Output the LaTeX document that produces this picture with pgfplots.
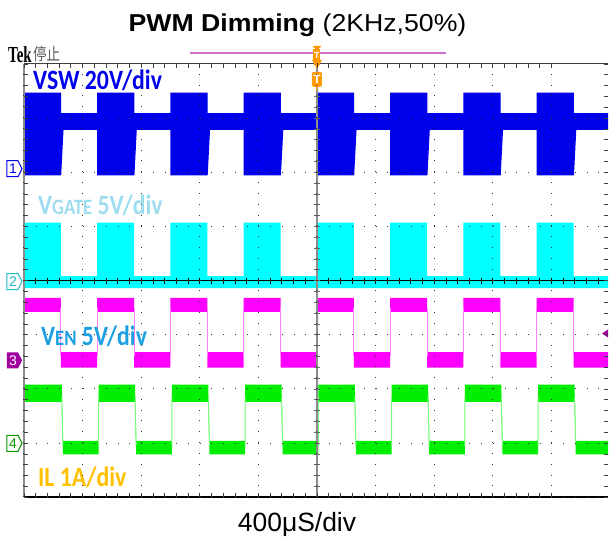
\documentclass[border=0pt]{standalone}
\usepackage{pgfplots}
\pgfplotsset{compat=1.18}
\usepgfplotslibrary{fillbetween}
\usepackage{fontspec}
\setmainfont{Liberation Sans}
\newfontfamily\labfont[FakeStretch=0.85]{Carlito}
\newfontfamily\tekfont[FakeStretch=0.65]{Liberation Serif}
\newfontfamily\cjk[FakeStretch=0.8]{Noto Sans CJK SC}
\definecolor{vsw}{RGB}{0,0,235}
\definecolor{vgate}{RGB}{0,255,255}
\definecolor{ven}{RGB}{255,0,255}
\definecolor{venedge}{RGB}{255,130,255}
\definecolor{il}{RGB}{0,238,0}
\definecolor{iledge}{RGB}{120,255,120}
\definecolor{lgate}{RGB}{158,220,240}
\definecolor{lven}{RGB}{28,160,226}
\definecolor{lil}{RGB}{255,192,0}
\definecolor{trig}{RGB}{255,153,0}
\definecolor{ch3}{RGB}{160,0,160}
\definecolor{ch4}{RGB}{0,150,0}
\definecolor{ch2}{RGB}{30,190,200}
\definecolor{tbar}{RGB}{210,110,210}
\begin{document}
\begin{tikzpicture}
\begin{axis}[
  at={(0pt,0pt)}, anchor=south west,
  scale only axis, width=585pt, height=434pt,
  xmin=0, xmax=9.966, ymin=0, ymax=8,
  xtick={0,...,9}, ytick={0,...,8},
  minor x tick num=4, minor y tick num=4,
  xticklabels={}, yticklabels={},
  tick align=inside, major tick length=4pt, minor tick length=4pt,
  tick style={black!75, line width=0.7pt},
  grid=major,
  x grid style={black!80, line width=1pt, dash pattern=on 1pt off 9.85pt},
  y grid style={black!80, line width=1pt, dash pattern=on 1pt off 10.74pt},
  axis line style={draw=none},
  axis on top,
  unbounded coords=jump,
]
% VSW
\addplot[draw=none, name path=swU] coordinates {(0,7.47)(0.635,7.47)(0.635,7.09)(1.25,7.09)(1.25,7.47)(1.885,7.47)(1.885,7.09)(2.5,7.09)(2.5,7.47)(3.135,7.47)(3.135,7.09)(3.75,7.09)(3.75,7.47)(4.385,7.47)(4.385,7.09)(5,7.09)(5,7.47)(5.635,7.47)(5.635,7.09)(6.25,7.09)(6.25,7.47)(6.885,7.47)(6.885,7.09)(7.5,7.09)(7.5,7.47)(8.135,7.47)(8.135,7.09)(8.75,7.09)(8.75,7.47)(9.385,7.47)(9.385,7.09)(10,7.09)};
\addplot[draw=none, name path=swL] coordinates {(0,5.94)(0.635,5.94)(0.675,6.78)(1.25,6.78)(1.25,5.94)(1.885,5.94)(1.925,6.78)(2.5,6.78)(2.5,5.94)(3.135,5.94)(3.175,6.78)(3.75,6.78)(3.75,5.94)(4.385,5.94)(4.425,6.78)(5,6.78)(5,5.94)(5.635,5.94)(5.675,6.78)(6.25,6.78)(6.25,5.94)(6.885,5.94)(6.925,6.78)(7.5,6.78)(7.5,5.94)(8.135,5.94)(8.175,6.78)(8.75,6.78)(8.75,5.94)(9.385,5.94)(9.425,6.78)(10,6.78)};
\addplot[fill=vsw, draw=none] fill between[of=swU and swL];
% VGATE
\addplot[draw=none, name path=gU] coordinates {(0,5.07)(0.63,5.07)(0.63,4.08)(1.25,4.08)(1.25,5.07)(1.88,5.07)(1.88,4.08)(2.5,4.08)(2.5,5.07)(3.13,5.07)(3.13,4.08)(3.75,4.08)(3.75,5.07)(4.38,5.07)(4.38,4.08)(5,4.08)(5,5.07)(5.63,5.07)(5.63,4.08)(6.25,4.08)(6.25,5.07)(6.88,5.07)(6.88,4.08)(7.5,4.08)(7.5,5.07)(8.13,5.07)(8.13,4.08)(8.75,4.08)(8.75,5.07)(9.38,5.07)(9.38,4.08)(10,4.08)};
\addplot[draw=none, name path=gL] coordinates {(0,3.86)(10,3.86)};
\addplot[fill=vgate, draw=none] fill between[of=gU and gL];
% VEN
\addplot[draw=none, name path=eU] coordinates {(0,3.68)(0.63,3.68)(0.63,2.68)(1.25,2.68)(1.25,3.68)(1.88,3.68)(1.88,2.68)(2.5,2.68)(2.5,3.68)(3.13,3.68)(3.13,2.68)(3.75,2.68)(3.75,3.68)(4.38,3.68)(4.38,2.68)(5,2.68)(5,3.68)(5.63,3.68)(5.63,2.68)(6.25,2.68)(6.25,3.68)(6.88,3.68)(6.88,2.68)(7.5,2.68)(7.5,3.68)(8.13,3.68)(8.13,2.68)(8.75,2.68)(8.75,3.68)(9.38,3.68)(9.38,2.68)(10,2.68)};
\addplot[draw=none, name path=eL] coordinates {(0,3.42)(0.63,3.42)(0.63,2.39)(1.25,2.39)(1.25,3.42)(1.88,3.42)(1.88,2.39)(2.5,2.39)(2.5,3.42)(3.13,3.42)(3.13,2.39)(3.75,2.39)(3.75,3.42)(4.38,3.42)(4.38,2.39)(5,2.39)(5,3.42)(5.63,3.42)(5.63,2.39)(6.25,2.39)(6.25,3.42)(6.88,3.42)(6.88,2.39)(7.5,2.39)(7.5,3.42)(8.13,3.42)(8.13,2.39)(8.75,2.39)(8.75,3.42)(9.38,3.42)(9.38,2.39)(10,2.39)};
\addplot[fill=ven, draw=none] fill between[of=eU and eL];
\addplot[venedge, line width=1pt] coordinates {(0.63,2.6)(0.63,3.5)(0.63,nan)(1.25,2.6)(1.25,3.5)(1.25,nan)(1.88,2.6)(1.88,3.5)(1.88,nan)(2.5,2.6)(2.5,3.5)(2.5,nan)(3.13,2.6)(3.13,3.5)(3.13,nan)(3.75,2.6)(3.75,3.5)(3.75,nan)(4.38,2.6)(4.38,3.5)(4.38,nan)(5,2.6)(5,3.5)(5,nan)(5.63,2.6)(5.63,3.5)(5.63,nan)(6.25,2.6)(6.25,3.5)(6.25,nan)(6.88,2.6)(6.88,3.5)(6.88,nan)(7.5,2.6)(7.5,3.5)(7.5,nan)(8.13,2.6)(8.13,3.5)(8.13,nan)(8.75,2.6)(8.75,3.5)(8.75,nan)(9.38,2.6)(9.38,3.5)};
% IL
\addplot[draw=none, name path=iU] coordinates {(0,2.08)(0.645,2.08)(0.665,1.04)(1.275,1.04)(1.275,2.08)(1.895,2.08)(1.915,1.04)(2.525,1.04)(2.525,2.08)(3.145,2.08)(3.165,1.04)(3.775,1.04)(3.775,2.08)(4.395,2.08)(4.415,1.04)(5.025,1.04)(5.025,2.08)(5.645,2.08)(5.665,1.04)(6.275,1.04)(6.275,2.08)(6.895,2.08)(6.915,1.04)(7.525,1.04)(7.525,2.08)(8.145,2.08)(8.165,1.04)(8.775,1.04)(8.775,2.08)(9.395,2.08)(9.415,1.04)(10,1.04)};
\addplot[draw=none, name path=iL] coordinates {(0,1.76)(0.645,1.76)(0.665,0.79)(1.275,0.79)(1.275,1.76)(1.895,1.76)(1.915,0.79)(2.525,0.79)(2.525,1.76)(3.145,1.76)(3.165,0.79)(3.775,0.79)(3.775,1.76)(4.395,1.76)(4.415,0.79)(5.025,0.79)(5.025,1.76)(5.645,1.76)(5.665,0.79)(6.275,0.79)(6.275,1.76)(6.895,1.76)(6.915,0.79)(7.525,0.79)(7.525,1.76)(8.145,1.76)(8.165,0.79)(8.775,0.79)(8.775,1.76)(9.395,1.76)(9.415,0.79)(10,0.79)};
\addplot[fill=il, draw=none] fill between[of=iU and iL];
\addplot[iledge, line width=1pt] coordinates {(0.645,1.85)(0.665,0.95)(0.665,nan)(1.275,0.95)(1.275,1.85)(1.275,nan)(1.895,1.85)(1.915,0.95)(1.915,nan)(2.525,0.95)(2.525,1.85)(2.525,nan)(3.145,1.85)(3.165,0.95)(3.165,nan)(3.775,0.95)(3.775,1.85)(3.775,nan)(4.395,1.85)(4.415,0.95)(4.415,nan)(5.025,0.95)(5.025,1.85)(5.025,nan)(5.645,1.85)(5.665,0.95)(5.665,nan)(6.275,0.95)(6.275,1.85)(6.275,nan)(6.895,1.85)(6.915,0.95)(6.915,nan)(7.525,0.95)(7.525,1.85)(7.525,nan)(8.145,1.85)(8.165,0.95)(8.165,nan)(8.775,0.95)(8.775,1.85)(8.775,nan)(9.395,1.85)(9.415,0.95)};
\end{axis}
\begin{scope}[x=1pt,y=1pt]
\path (-24,-42) rectangle (585,498);
% center graticule lines
\draw[black, line width=1pt] (0,217) -- (585,217);
\foreach \i in {0,...,49} \draw[black, line width=0.7pt] ({\i*11.74},214) -- ({\i*11.74},220);
\draw[black!45, line width=2pt] (293.5,0) -- (293.5,434);
\foreach \j in {0,...,40} \draw[black!60, line width=0.7pt] (290.5,{\j*10.85}) -- (296.5,{\j*10.85});
% borders
\draw[black!45, line width=2pt] (0,0) -- (0,434);
\draw[black!75, line width=1pt] (0,434) -- (585,434);
\draw[black, line width=2pt] (0,0) -- (585,0);
% title and labels
\node[anchor=base] at (274,466) {\scalebox{1.09}[1]{\fontsize{24.5}{26}\selectfont\textbf{PWM Dimming} (2KHz,50\%)}};
\node[anchor=base] at (273.5,-34) {\fontsize{26.5}{28}\selectfont 400μS/div};
\node[anchor=base west, inner sep=0pt] at (-16,435) {\tekfont\fontsize{23}{23}\selectfont\textbf{Tek}};
\node[anchor=base west, inner sep=0pt, text=black!65] at (9,437) {\cjk\fontsize{17}{17}\selectfont 停止};
\node[anchor=base west, inner sep=0pt, text=vsw] at (9,408) {\labfont\bfseries\fontsize{28}{28}\selectfont VSW 20V/div};
\node[anchor=base west, inner sep=0pt, text=lgate] at (14,283) {\labfont\bfseries\fontsize{28}{28}\selectfont V{\fontsize{22}{22}\selectfont GATE} 5V/div};
\node[anchor=base west, inner sep=0pt, text=lven] at (17,152) {\labfont\bfseries\fontsize{28}{28}\selectfont V{\fontsize{22}{22}\selectfont EN} 5V/div};
\node[anchor=base west, inner sep=0pt, text=lil] at (14,11) {\labfont\bfseries\fontsize{28}{28}\selectfont IL 1A/div};
% trigger bar and markers
\draw[tbar, line width=1.5pt] (166,445) -- (423,445);
\fill[trig] (289,452) -- (298,452) -- (293.5,447) -- cycle;
\fill[trig] (290,437) rectangle (297,449);
\fill[trig] (288.5,438) -- (298.5,438) -- (293.5,429) -- cycle;
\node[text=white, inner sep=0pt] at (293.5,442) {\fontsize{9}{9}\selectfont\textbf{T}};
\draw[trig, line width=1pt] (293.5,411) -- (293.5,407);
\fill[trig, rounded corners=2pt] (288.5,411) rectangle (298.5,426);
\node[text=white, inner sep=0pt] at (293.5,418.5) {\fontsize{12}{12}\selectfont\textbf{T}};
% channel markers
\draw[vsw, fill=white, line width=1pt] (-17,321) -- (-6,321) -- (-2,329) -- (-6,337) -- (-17,337) -- cycle;
\node[text=vsw, inner sep=0pt] at (-11,329) {\fontsize{14}{14}\selectfont 1};
\draw[ch2, fill=white, line width=1pt] (-17,208) -- (-6,208) -- (-2,216) -- (-6,224) -- (-17,224) -- cycle;
\node[text=ch2, inner sep=0pt] at (-11,216) {\fontsize{14}{14}\selectfont 2};
\fill[ch3] (-17,129) -- (-6,129) -- (-2,137) -- (-6,145) -- (-17,145) -- cycle;
\node[text=white, inner sep=0pt] at (-11,137) {\fontsize{14}{14}\selectfont 3};
\draw[ch4, fill=white, line width=1pt] (-17,46) -- (-6,46) -- (-2,54) -- (-6,62) -- (-17,62) -- cycle;
\node[text=ch4, inner sep=0pt] at (-11,54) {\fontsize{14}{14}\selectfont 4};
% trigger level arrow
\fill[ch3] (585,160) -- (579,164) -- (585,168) -- cycle;
\end{scope}
\end{tikzpicture}
\end{document}
